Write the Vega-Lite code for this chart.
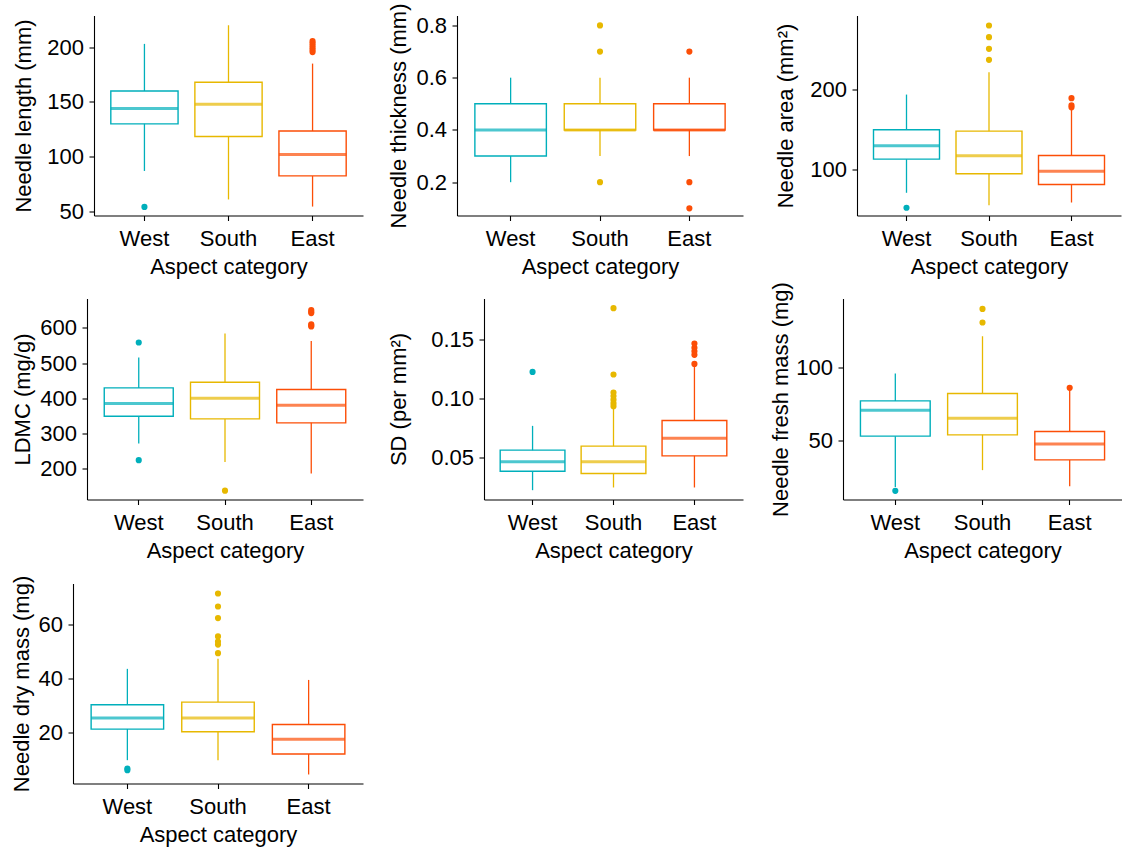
{
"$schema":"https://vega.github.io/schema/vega-lite/v6.json",
"padding":{"left":0,"top":2.5,"right":0,"bottom":0},
"config":{"font":"Liberation Sans","view":{"stroke":null},
"axis":{"domainColor":"black","tickColor":"black","labelColor":"black","titleColor":"black","titleFontWeight":"normal","grid":false,"domainWidth":1.1,"tickWidth":1.1,"tickSize":5,"titleFontSize":22,"titleFont":"Liberation Sans","labelFont":"Liberation Sans"},
"axisX":{"labelFontSize":22,"labelPadding":8,"labelAngle":0},
"axisY":{"labelFontSize":22,"labelPadding":5.5}},
"datasets":{
"boxes":[
{"trait":"length","cat":"West","lo":87,"q1":130,"med":144,"q3":160,"hi":203},
{"trait":"length","cat":"South","lo":61,"q1":118.5,"med":148,"q3":168,"hi":220},
{"trait":"length","cat":"East","lo":54.5,"q1":82.5,"med":102,"q3":123.5,"hi":185},
{"trait":"thickness","cat":"West","lo":0.2,"q1":0.3,"med":0.4,"q3":0.5,"hi":0.6},
{"trait":"thickness","cat":"South","lo":0.3,"q1":0.4,"med":0.4,"q3":0.5,"hi":0.6},
{"trait":"thickness","cat":"East","lo":0.3,"q1":0.4,"med":0.4,"q3":0.5,"hi":0.6},
{"trait":"area","cat":"West","lo":70.8,"q1":113,"med":129.7,"q3":149.8,"hi":194},
{"trait":"area","cat":"South","lo":55.3,"q1":94.6,"med":117.2,"q3":148.1,"hi":222},
{"trait":"area","cat":"East","lo":58.6,"q1":81.2,"med":97.9,"q3":117.6,"hi":176},
{"trait":"ldmc","cat":"West","lo":271,"q1":348.8,"med":384.9,"q3":429.3,"hi":515.8},
{"trait":"ldmc","cat":"South","lo":218.8,"q1":341.1,"med":400,"q3":445.5,"hi":584},
{"trait":"ldmc","cat":"East","lo":185.8,"q1":329.8,"med":380.1,"q3":424.7,"hi":563},
{"trait":"sd","cat":"West","lo":0.0223,"q1":0.0384,"med":0.0463,"q3":0.0562,"hi":0.0768},
{"trait":"sd","cat":"South","lo":0.0246,"q1":0.0364,"med":0.0463,"q3":0.0596,"hi":0.0915},
{"trait":"sd","cat":"East","lo":0.0246,"q1":0.0514,"med":0.0664,"q3":0.0813,"hi":0.1268},
{"trait":"fresh","cat":"West","lo":17.7,"q1":52.8,"med":70.7,"q3":77.2,"hi":96.1},
{"trait":"fresh","cat":"South","lo":29.3,"q1":53.7,"med":65.2,"q3":82.3,"hi":121.9},
{"trait":"fresh","cat":"East","lo":18.2,"q1":36.4,"med":47.4,"q3":56,"hi":84.5},
{"trait":"dry","cat":"West","lo":9.6,"q1":21.1,"med":25.2,"q3":30.1,"hi":43.4},
{"trait":"dry","cat":"South","lo":9.6,"q1":20.1,"med":25.2,"q3":31.1,"hi":47.1},
{"trait":"dry","cat":"East","lo":4.3,"q1":11.9,"med":17.3,"q3":22.8,"hi":39.3}
],
"outs":[
{"trait":"length","cat":"West","v":54.2},
{"trait":"length","cat":"East","v":195.5},{"trait":"length","cat":"East","v":197.5},{"trait":"length","cat":"East","v":199.5},{"trait":"length","cat":"East","v":201.5},{"trait":"length","cat":"East","v":203.5},{"trait":"length","cat":"East","v":205.5},
{"trait":"thickness","cat":"South","v":0.8},{"trait":"thickness","cat":"South","v":0.7},{"trait":"thickness","cat":"South","v":0.2},
{"trait":"thickness","cat":"East","v":0.7},{"trait":"thickness","cat":"East","v":0.2},{"trait":"thickness","cat":"East","v":0.1},
{"trait":"area","cat":"West","v":52},
{"trait":"area","cat":"South","v":237.6},{"trait":"area","cat":"South","v":251.4},{"trait":"area","cat":"South","v":266},{"trait":"area","cat":"South","v":280.7},
{"trait":"area","cat":"East","v":178},{"trait":"area","cat":"East","v":180.5},{"trait":"area","cat":"East","v":189.5},
{"trait":"ldmc","cat":"West","v":558.4},{"trait":"ldmc","cat":"West","v":223.6},
{"trait":"ldmc","cat":"South","v":137},
{"trait":"ldmc","cat":"East","v":604},{"trait":"ldmc","cat":"East","v":607},{"trait":"ldmc","cat":"East","v":610},{"trait":"ldmc","cat":"East","v":642},{"trait":"ldmc","cat":"East","v":646},{"trait":"ldmc","cat":"East","v":651},
{"trait":"sd","cat":"West","v":0.1225},
{"trait":"sd","cat":"South","v":0.1765},{"trait":"sd","cat":"South","v":0.1203},{"trait":"sd","cat":"South","v":0.105},{"trait":"sd","cat":"South","v":0.102},{"trait":"sd","cat":"South","v":0.099},{"trait":"sd","cat":"South","v":0.096},{"trait":"sd","cat":"South","v":0.0935},
{"trait":"sd","cat":"East","v":0.1293},{"trait":"sd","cat":"East","v":0.137},{"trait":"sd","cat":"East","v":0.14},{"trait":"sd","cat":"East","v":0.143},{"trait":"sd","cat":"East","v":0.1466},
{"trait":"fresh","cat":"West","v":15},
{"trait":"fresh","cat":"South","v":140.8},{"trait":"fresh","cat":"South","v":131.4},
{"trait":"fresh","cat":"East","v":86.2},
{"trait":"dry","cat":"West","v":5.9},{"trait":"dry","cat":"West","v":6.5},
{"trait":"dry","cat":"South","v":71.3},{"trait":"dry","cat":"South","v":66.5},{"trait":"dry","cat":"South","v":62.2},{"trait":"dry","cat":"South","v":55.4},{"trait":"dry","cat":"South","v":53.5},{"trait":"dry","cat":"South","v":52.4},{"trait":"dry","cat":"South","v":49.2}
]},
"spacing":0,
"columns":1,
"align":"none",
"concat":[
{"spacing":0,"hconcat":[
{"width":290,"height":200,"layer":[
{"data":{"name":"boxes"},"transform":[{"filter":"datum.trait==='length'"}],"mark":{"type":"rule","strokeWidth":1.3},
"encoding":{"x":{"field":"cat","type":"nominal","sort":["West","South","East"],"scale":{"domain":["West","South","East"],"range":[21,290],"paddingInner":0.2,"paddingOuter":0.2},"axis":{"title":"Aspect category","titleY":41,"minExtent":66,"maxExtent":66}},
"y":{"field":"lo","type":"quantitative","scale":{"domain":[46.35,228.9],"nice":false,"zero":false},"axis":{"title":"Needle length (mm)","values":[50,100,150,200],"format":"d","offset":-21,"titleX":-59,"minExtent":94,"maxExtent":94}},
"y2":{"field":"hi"},
"color":{"field":"cat","type":"nominal","scale":{"domain":["West","South","East"],"range":["#00AFBB","#E7B800","#FC4E07"]},"legend":null}}},
{"data":{"name":"boxes"},"transform":[{"filter":"datum.trait==='length'"}],"mark":{"type":"bar","fill":"white","strokeWidth":1.4},
"encoding":{"x":{"field":"cat","type":"nominal","sort":["West","South","East"]},
"y":{"field":"q1","type":"quantitative"},"y2":{"field":"q3"},
"stroke":{"field":"cat","type":"nominal","scale":{"domain":["West","South","East"],"range":["#00AFBB","#E7B800","#FC4E07"]},"legend":null}}},
{"data":{"name":"boxes"},"transform":[{"filter":"datum.trait==='length'"}],"mark":{"type":"tick","size":67.25,"thickness":3},
"encoding":{"x":{"field":"cat","type":"nominal","sort":["West","South","East"]},
"y":{"field":"med","type":"quantitative"},
"color":{"field":"cat","type":"nominal","legend":null}}},
{"data":{"name":"outs"},"transform":[{"filter":"datum.trait==='length'"}],"mark":{"type":"circle","size":38,"opacity":1},
"encoding":{"x":{"field":"cat","type":"nominal","sort":["West","South","East"]},
"y":{"field":"v","type":"quantitative"},
"color":{"field":"cat","type":"nominal","legend":null}}}
]},
{"width":286,"height":200,"layer":[
{"data":{"name":"boxes"},"transform":[{"filter":"datum.trait==='thickness'"}],"mark":{"type":"rule","strokeWidth":1.3},
"encoding":{"x":{"field":"cat","type":"nominal","sort":["West","South","East"],"scale":{"domain":["West","South","East"],"paddingInner":0.2,"paddingOuter":0.2},"axis":{"title":"Aspect category","titleY":41,"minExtent":66,"maxExtent":66}},
"y":{"field":"lo","type":"quantitative","scale":{"domain":[0.0725,0.838],"nice":false,"zero":false},"axis":{"title":"Needle thickness (mm)","values":[0.2,0.4,0.6,0.8],"format":".1f","titleX":-47,"minExtent":94,"maxExtent":94}},
"y2":{"field":"hi"},
"color":{"field":"cat","type":"nominal","scale":{"domain":["West","South","East"],"range":["#00AFBB","#E7B800","#FC4E07"]},"legend":null}}},
{"data":{"name":"boxes"},"transform":[{"filter":"datum.trait==='thickness'"}],"mark":{"type":"bar","fill":"white","strokeWidth":1.4},
"encoding":{"x":{"field":"cat","type":"nominal","sort":["West","South","East"]},
"y":{"field":"q1","type":"quantitative"},"y2":{"field":"q3"},
"stroke":{"field":"cat","type":"nominal","scale":{"domain":["West","South","East"],"range":["#00AFBB","#E7B800","#FC4E07"]},"legend":null}}},
{"data":{"name":"boxes"},"transform":[{"filter":"datum.trait==='thickness'"}],"mark":{"type":"tick","size":71.5,"thickness":3},
"encoding":{"x":{"field":"cat","type":"nominal","sort":["West","South","East"]},
"y":{"field":"med","type":"quantitative"},
"color":{"field":"cat","type":"nominal","legend":null}}},
{"data":{"name":"outs"},"transform":[{"filter":"datum.trait==='thickness'"}],"mark":{"type":"circle","size":38,"opacity":1},
"encoding":{"x":{"field":"cat","type":"nominal","sort":["West","South","East"]},
"y":{"field":"v","type":"quantitative"},
"color":{"field":"cat","type":"nominal","legend":null}}}
]},
{"width":264,"height":200,"layer":[
{"data":{"name":"boxes"},"transform":[{"filter":"datum.trait==='area'"}],"mark":{"type":"rule","strokeWidth":1.3},
"encoding":{"x":{"field":"cat","type":"nominal","sort":["West","South","East"],"scale":{"domain":["West","South","East"],"paddingInner":0.2,"paddingOuter":0.2},"axis":{"title":"Aspect category","titleY":41,"minExtent":66,"maxExtent":66}},
"y":{"field":"lo","type":"quantitative","scale":{"domain":[42.3,293.2],"nice":false,"zero":false},"axis":{"title":"Needle area (mm²)","values":[100,200],"format":"d","titleX":-60,"minExtent":114,"maxExtent":114}},
"y2":{"field":"hi"},
"color":{"field":"cat","type":"nominal","scale":{"domain":["West","South","East"],"range":["#00AFBB","#E7B800","#FC4E07"]},"legend":null}}},
{"data":{"name":"boxes"},"transform":[{"filter":"datum.trait==='area'"}],"mark":{"type":"bar","fill":"white","strokeWidth":1.4},
"encoding":{"x":{"field":"cat","type":"nominal","sort":["West","South","East"]},
"y":{"field":"q1","type":"quantitative"},"y2":{"field":"q3"},
"stroke":{"field":"cat","type":"nominal","scale":{"domain":["West","South","East"],"range":["#00AFBB","#E7B800","#FC4E07"]},"legend":null}}},
{"data":{"name":"boxes"},"transform":[{"filter":"datum.trait==='area'"}],"mark":{"type":"tick","size":66,"thickness":3},
"encoding":{"x":{"field":"cat","type":"nominal","sort":["West","South","East"]},
"y":{"field":"med","type":"quantitative"},
"color":{"field":"cat","type":"nominal","legend":null}}},
{"data":{"name":"outs"},"transform":[{"filter":"datum.trait==='area'"}],"mark":{"type":"circle","size":38,"opacity":1},
"encoding":{"x":{"field":"cat","type":"nominal","sort":["West","South","East"]},
"y":{"field":"v","type":"quantitative"},
"color":{"field":"cat","type":"nominal","legend":null}}}
]}
]},
{"spacing":0,"hconcat":[
{"width":290,"height":201,"layer":[
{"data":{"name":"boxes"},"transform":[{"filter":"datum.trait==='ldmc'"}],"mark":{"type":"rule","strokeWidth":1.3},
"encoding":{"x":{"field":"cat","type":"nominal","sort":["West","South","East"],"scale":{"domain":["West","South","East"],"range":[14,290],"paddingInner":0.2,"paddingOuter":0.2},"axis":{"title":"Aspect category","titleY":41,"minExtent":75,"maxExtent":75}},
"y":{"field":"lo","type":"quantitative","scale":{"domain":[111.8,683.6],"nice":false,"zero":false},"axis":{"title":"LDMC (mg/g)","values":[200,300,400,500,600],"format":"d","offset":-14,"titleX":-53,"minExtent":87,"maxExtent":87}},
"y2":{"field":"hi"},
"color":{"field":"cat","type":"nominal","scale":{"domain":["West","South","East"],"range":["#00AFBB","#E7B800","#FC4E07"]},"legend":null}}},
{"data":{"name":"boxes"},"transform":[{"filter":"datum.trait==='ldmc'"}],"mark":{"type":"bar","fill":"white","strokeWidth":1.4},
"encoding":{"x":{"field":"cat","type":"nominal","sort":["West","South","East"]},
"y":{"field":"q1","type":"quantitative"},"y2":{"field":"q3"},
"stroke":{"field":"cat","type":"nominal","scale":{"domain":["West","South","East"],"range":["#00AFBB","#E7B800","#FC4E07"]},"legend":null}}},
{"data":{"name":"boxes"},"transform":[{"filter":"datum.trait==='ldmc'"}],"mark":{"type":"tick","size":69,"thickness":3},
"encoding":{"x":{"field":"cat","type":"nominal","sort":["West","South","East"]},
"y":{"field":"med","type":"quantitative"},
"color":{"field":"cat","type":"nominal","legend":null}}},
{"data":{"name":"outs"},"transform":[{"filter":"datum.trait==='ldmc'"}],"mark":{"type":"circle","size":38,"opacity":1},
"encoding":{"x":{"field":"cat","type":"nominal","sort":["West","South","East"]},
"y":{"field":"v","type":"quantitative"},
"color":{"field":"cat","type":"nominal","legend":null}}}
]},
{"width":259,"height":201,"layer":[
{"data":{"name":"boxes"},"transform":[{"filter":"datum.trait==='sd'"}],"mark":{"type":"rule","strokeWidth":1.3},
"encoding":{"x":{"field":"cat","type":"nominal","sort":["West","South","East"],"scale":{"domain":["West","South","East"],"paddingInner":0.2,"paddingOuter":0.2},"axis":{"title":"Aspect category","titleY":41,"minExtent":75,"maxExtent":75}},
"y":{"field":"lo","type":"quantitative","scale":{"domain":[0.01441,0.1847],"nice":false,"zero":false},"axis":{"title":"SD (per mm²)","values":[0.05,0.1,0.15],"format":".2f","titleX":-74,"minExtent":121,"maxExtent":121}},
"y2":{"field":"hi"},
"color":{"field":"cat","type":"nominal","scale":{"domain":["West","South","East"],"range":["#00AFBB","#E7B800","#FC4E07"]},"legend":null}}},
{"data":{"name":"boxes"},"transform":[{"filter":"datum.trait==='sd'"}],"mark":{"type":"bar","fill":"white","strokeWidth":1.4},
"encoding":{"x":{"field":"cat","type":"nominal","sort":["West","South","East"]},
"y":{"field":"q1","type":"quantitative"},"y2":{"field":"q3"},
"stroke":{"field":"cat","type":"nominal","scale":{"domain":["West","South","East"],"range":["#00AFBB","#E7B800","#FC4E07"]},"legend":null}}},
{"data":{"name":"boxes"},"transform":[{"filter":"datum.trait==='sd'"}],"mark":{"type":"tick","size":64.75,"thickness":3},
"encoding":{"x":{"field":"cat","type":"nominal","sort":["West","South","East"]},
"y":{"field":"med","type":"quantitative"},
"color":{"field":"cat","type":"nominal","legend":null}}},
{"data":{"name":"outs"},"transform":[{"filter":"datum.trait==='sd'"}],"mark":{"type":"circle","size":38,"opacity":1},
"encoding":{"x":{"field":"cat","type":"nominal","sort":["West","South","East"]},
"y":{"field":"v","type":"quantitative"},
"color":{"field":"cat","type":"nominal","legend":null}}}
]},
{"width":279,"height":201,"layer":[
{"data":{"name":"boxes"},"transform":[{"filter":"datum.trait==='fresh'"}],"mark":{"type":"rule","strokeWidth":1.3},
"encoding":{"x":{"field":"cat","type":"nominal","sort":["West","South","East"],"scale":{"domain":["West","South","East"],"paddingInner":0.2,"paddingOuter":0.2},"axis":{"title":"Aspect category","titleY":41,"minExtent":75,"maxExtent":75}},
"y":{"field":"lo","type":"quantitative","scale":{"domain":[9,148],"nice":false,"zero":false},"axis":{"title":"Needle fresh mass (mg)","values":[50,100],"format":"d","titleX":-51,"minExtent":100,"maxExtent":100}},
"y2":{"field":"hi"},
"color":{"field":"cat","type":"nominal","scale":{"domain":["West","South","East"],"range":["#00AFBB","#E7B800","#FC4E07"]},"legend":null}}},
{"data":{"name":"boxes"},"transform":[{"filter":"datum.trait==='fresh'"}],"mark":{"type":"bar","fill":"white","strokeWidth":1.4},
"encoding":{"x":{"field":"cat","type":"nominal","sort":["West","South","East"]},
"y":{"field":"q1","type":"quantitative"},"y2":{"field":"q3"},
"stroke":{"field":"cat","type":"nominal","scale":{"domain":["West","South","East"],"range":["#00AFBB","#E7B800","#FC4E07"]},"legend":null}}},
{"data":{"name":"boxes"},"transform":[{"filter":"datum.trait==='fresh'"}],"mark":{"type":"tick","size":69.75,"thickness":3},
"encoding":{"x":{"field":"cat","type":"nominal","sort":["West","South","East"]},
"y":{"field":"med","type":"quantitative"},
"color":{"field":"cat","type":"nominal","legend":null}}},
{"data":{"name":"outs"},"transform":[{"filter":"datum.trait==='fresh'"}],"mark":{"type":"circle","size":38,"opacity":1},
"encoding":{"x":{"field":"cat","type":"nominal","sort":["West","South","East"]},
"y":{"field":"v","type":"quantitative"},
"color":{"field":"cat","type":"nominal","legend":null}}}
]}
]},
{"spacing":0,"hconcat":[
{"width":290,"height":200,"layer":[
{"data":{"name":"boxes"},"transform":[{"filter":"datum.trait==='dry'"}],"mark":{"type":"rule","strokeWidth":1.3},
"encoding":{"x":{"field":"cat","type":"nominal","sort":["West","South","East"],"scale":{"domain":["West","South","East"],"paddingInner":0.2,"paddingOuter":0.2},"axis":{"title":"Aspect category","titleY":41,"minExtent":64,"maxExtent":64}},
"y":{"field":"lo","type":"quantitative","scale":{"domain":[0.96,75],"nice":false,"zero":false},"axis":{"title":"Needle dry mass (mg)","values":[20,40,60],"format":"d","titleX":-40,"minExtent":73,"maxExtent":73}},
"y2":{"field":"hi"},
"color":{"field":"cat","type":"nominal","scale":{"domain":["West","South","East"],"range":["#00AFBB","#E7B800","#FC4E07"]},"legend":null}}},
{"data":{"name":"boxes"},"transform":[{"filter":"datum.trait==='dry'"}],"mark":{"type":"bar","fill":"white","strokeWidth":1.4},
"encoding":{"x":{"field":"cat","type":"nominal","sort":["West","South","East"]},
"y":{"field":"q1","type":"quantitative"},"y2":{"field":"q3"},
"stroke":{"field":"cat","type":"nominal","scale":{"domain":["West","South","East"],"range":["#00AFBB","#E7B800","#FC4E07"]},"legend":null}}},
{"data":{"name":"boxes"},"transform":[{"filter":"datum.trait==='dry'"}],"mark":{"type":"tick","size":72.5,"thickness":3},
"encoding":{"x":{"field":"cat","type":"nominal","sort":["West","South","East"]},
"y":{"field":"med","type":"quantitative"},
"color":{"field":"cat","type":"nominal","legend":null}}},
{"data":{"name":"outs"},"transform":[{"filter":"datum.trait==='dry'"}],"mark":{"type":"circle","size":38,"opacity":1},
"encoding":{"x":{"field":"cat","type":"nominal","sort":["West","South","East"]},
"y":{"field":"v","type":"quantitative"},
"color":{"field":"cat","type":"nominal","legend":null}}}
]}
]}
]
}
